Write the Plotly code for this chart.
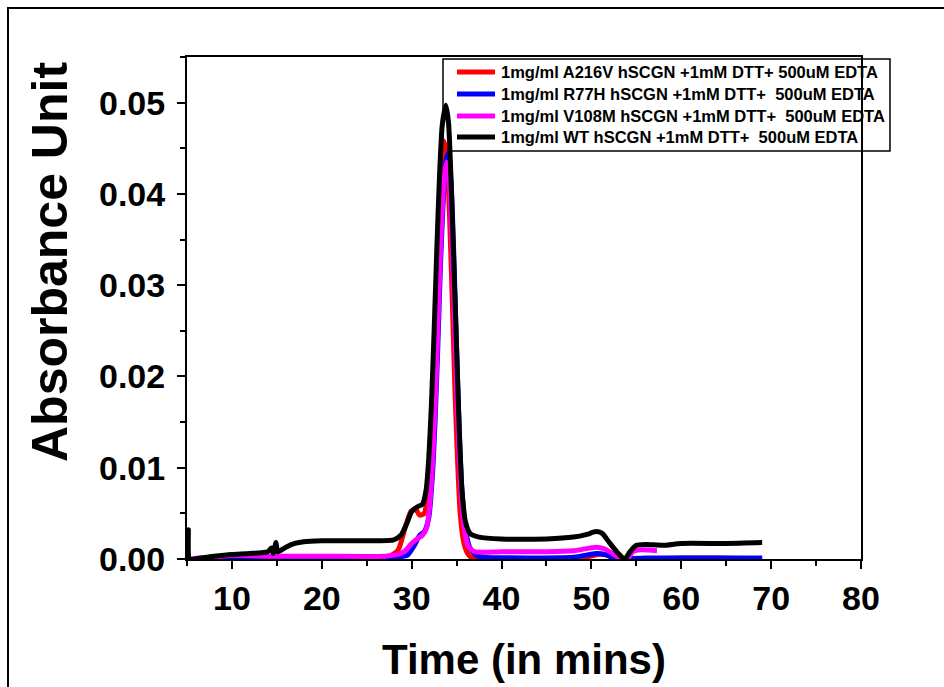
import plotly.graph_objects as go

# Elution profiles (time in minutes, absorbance units)
labels = [
    "1mg/ml A216V hSCGN +1mM DTT+ 500uM EDTA",
    "1mg/ml R77H hSCGN +1mM DTT+\u00a0 500uM EDTA",
    "1mg/ml V108M hSCGN +1mM DTT+\u00a0 500uM EDTA",
    "1mg/ml WT hSCGN +1mM DTT+\u00a0 500uM EDTA",
]
colors = ["#ff0000", "#0000ff", "#ff00ff", "#000000"]

a216v_t = [6.5, 8, 10, 20, 27.5, 28.5, 29.3, 29.9, 30.4, 30.9, 31.4, 31.8, 32.1, 32.4,
           32.7, 33.0, 33.3, 33.6, 33.9, 34.2, 34.5, 34.8, 35.1, 35.4, 35.8, 36.3,
           37.0, 40, 49, 50.7, 51.8, 52.8, 60, 64, 69]
a216v_y = [0.0, 0.0001, 0.0002, 0.0002, 0.0003, 0.0010, 0.0035, 0.0052, 0.0055, 0.0048,
           0.0050, 0.0075, 0.012, 0.019, 0.028, 0.037, 0.043, 0.0458, 0.044, 0.038,
           0.029, 0.019, 0.011, 0.005, 0.0018, 0.0005, 0.0, 0.0, 0.0001, 0.0005,
           0.0004, 0.0, 0.0001, 0.0001, 0.0]

r77h_t = [6.5, 8, 10, 20, 28, 29.5, 30.3, 30.9, 31.4, 31.9, 32.3, 32.6, 32.9, 33.2,
          33.5, 33.8, 34.1, 34.4, 34.7, 35.0, 35.3, 35.6, 36.0, 36.5, 37.2, 38, 48,
          50.5, 51.5, 52.5, 53.2, 56, 69]
r77h_y = [0.0, 0.0001, 0.0002, 0.0002, 0.0002, 0.0004, 0.0015, 0.0026, 0.0030, 0.0045,
          0.009, 0.015, 0.023, 0.032, 0.039, 0.0435, 0.0445, 0.041, 0.033, 0.023,
          0.014, 0.0075, 0.0032, 0.0012, 0.0004, 0.0002, 0.0002, 0.0006, 0.0005,
          0.0001, 0.0, 0.0001, 0.0001]

v108m_t = [5.5, 6.5, 8, 10, 14, 20, 27, 28.5, 29.3, 30.0, 30.6, 31.2, 31.7, 32.1, 32.4,
           32.7, 33.0, 33.3, 33.6, 33.9, 34.2, 34.5, 34.8, 35.1, 35.4, 35.8, 36.3,
           37.0, 40, 45, 48, 50.5, 51.5, 52.5, 53.3, 54, 54.6, 55.5, 57.3]
v108m_y = [0.0, 0.0001, 0.0002, 0.0004, 0.0003, 0.0003, 0.0003, 0.0005, 0.0009, 0.0017,
           0.0022, 0.0026, 0.0035, 0.007, 0.012, 0.019, 0.028, 0.036, 0.0415, 0.0435,
           0.041, 0.034, 0.025, 0.016, 0.009, 0.0038, 0.0014, 0.0008, 0.0008, 0.0008,
           0.0009, 0.0013, 0.0011, 0.0005, 0.0, 0.0, 0.0008, 0.0010, 0.0009]

wt_t = [5.0, 5.15, 5.3, 6.5, 8, 10, 12, 14, 14.4, 14.6, 14.9, 15.1, 16, 17, 18, 20, 25,
        28, 28.8, 29.5, 30.0, 30.6, 31.2, 31.6, 31.9, 32.2, 32.5, 32.8, 33.1, 33.4,
        33.8, 34.1, 34.4, 34.7, 35.0, 35.3, 35.6, 36.0, 36.5, 37.5, 40, 45, 48, 49.5,
        50.5, 51.2, 52, 53, 53.7, 54.3, 55, 56, 58, 60, 65, 69]
wt_y = [0.0, 0.0032, 0.0, 0.0001, 0.0003, 0.0005, 0.0006, 0.0008, 0.0012, 0.0006,
        0.0018, 0.0008, 0.0013, 0.0017, 0.0019, 0.0020, 0.0020, 0.0021, 0.0026,
        0.0040, 0.0052, 0.0057, 0.0060, 0.0075, 0.011, 0.017, 0.025, 0.034, 0.042,
        0.0475, 0.0497, 0.0478, 0.041, 0.032, 0.023, 0.014, 0.0075, 0.0040, 0.0028,
        0.0024, 0.0022, 0.0022, 0.0024, 0.0027, 0.0030, 0.0028, 0.0018, 0.0006, 0.0,
        0.0008, 0.0015, 0.0016, 0.0015, 0.0017, 0.0017, 0.0018]

series = [(a216v_t, a216v_y), (r77h_t, r77h_y), (v108m_t, v108m_y), (wt_t, wt_y)]

FONT = "Liberation Sans, Arial, sans-serif"

# plot area in pixels (used to place the key box and titles in paper units)
W, H = 944, 687
L, R, T, B = 187, 83, 57, 128
PW, PH = W - L - R, H - T - B


def px(x):
    return (x - L) / PW


def py(y):
    return (H - B - y) / PH


fig = go.Figure()
for (t, y), name, c in zip(series, labels, colors):
    fig.add_trace(go.Scatter(
        x=t, y=y, mode="lines", name=name, showlegend=False,
        line=dict(color=c, width=5, shape="spline", smoothing=0.6),
    ))

axis_common = dict(
    showline=True, linecolor="black", linewidth=2, mirror=True,
    ticks="outside", tickcolor="black", tickwidth=2, ticklen=8,
    tickfont=dict(family=FONT, size=34, color="black", weight="bold"),
    showgrid=False, zeroline=False,
)

fig.update_xaxes(
    range=[5, 80], tick0=0, dtick=10,
    minor=dict(dtick=5, ticks="outside", ticklen=5, tickwidth=2, tickcolor="black"),
    **axis_common,
)
fig.update_yaxes(
    range=[0, 0.055], tick0=0, dtick=0.01, tickformat=".2f",
    minor=dict(dtick=0.005, ticks="outside", ticklen=5, tickwidth=2, tickcolor="black"),
    ticklabelstandoff=5,
    **axis_common,
)

# key: framed box with a line sample and label per series
key_rows = [72, 94, 116, 137]
shapes = [
    dict(type="rect", xref="paper", yref="paper",
         x0=px(8), x1=px(952), y0=py(695), y1=py(8),
         line=dict(color="black", width=2), fillcolor="rgba(0,0,0,0)"),
    dict(type="rect", xref="paper", yref="paper", layer="below",
         x0=px(443), x1=px(890), y0=py(151), y1=py(59),
         line=dict(color="black", width=1.5), fillcolor="white"),
]
annotations = [
    dict(text="Time (in mins)", xref="paper", yref="paper",
         x=0.5, y=py(659), xanchor="center", yanchor="middle", showarrow=False,
         font=dict(family=FONT, size=42, color="black", weight="bold")),
    dict(text="Absorbance Unit", xref="paper", yref="paper", textangle=-90,
         x=px(50), y=py(262), xanchor="center", yanchor="middle", showarrow=False,
         font=dict(family=FONT, size=50, color="black", weight="bold")),
]
for row, name, c in zip(key_rows, labels, colors):
    shapes.append(dict(type="line", xref="paper", yref="paper",
                       x0=px(457), x1=px(495), y0=py(row), y1=py(row),
                       line=dict(color=c, width=5)))
    annotations.append(dict(text=name, xref="paper", yref="paper",
                            x=px(499), y=py(row), xanchor="left", yanchor="middle",
                            showarrow=False,
                            font=dict(family=FONT, size=16.5, color="black", weight="bold")))

fig.update_layout(
    width=W, height=H,
    margin=dict(l=L, r=R, t=T, b=B),
    plot_bgcolor="white", paper_bgcolor="white",
    showlegend=False,
    annotations=annotations,
    shapes=shapes,
)

fig.write_html("out.html")
